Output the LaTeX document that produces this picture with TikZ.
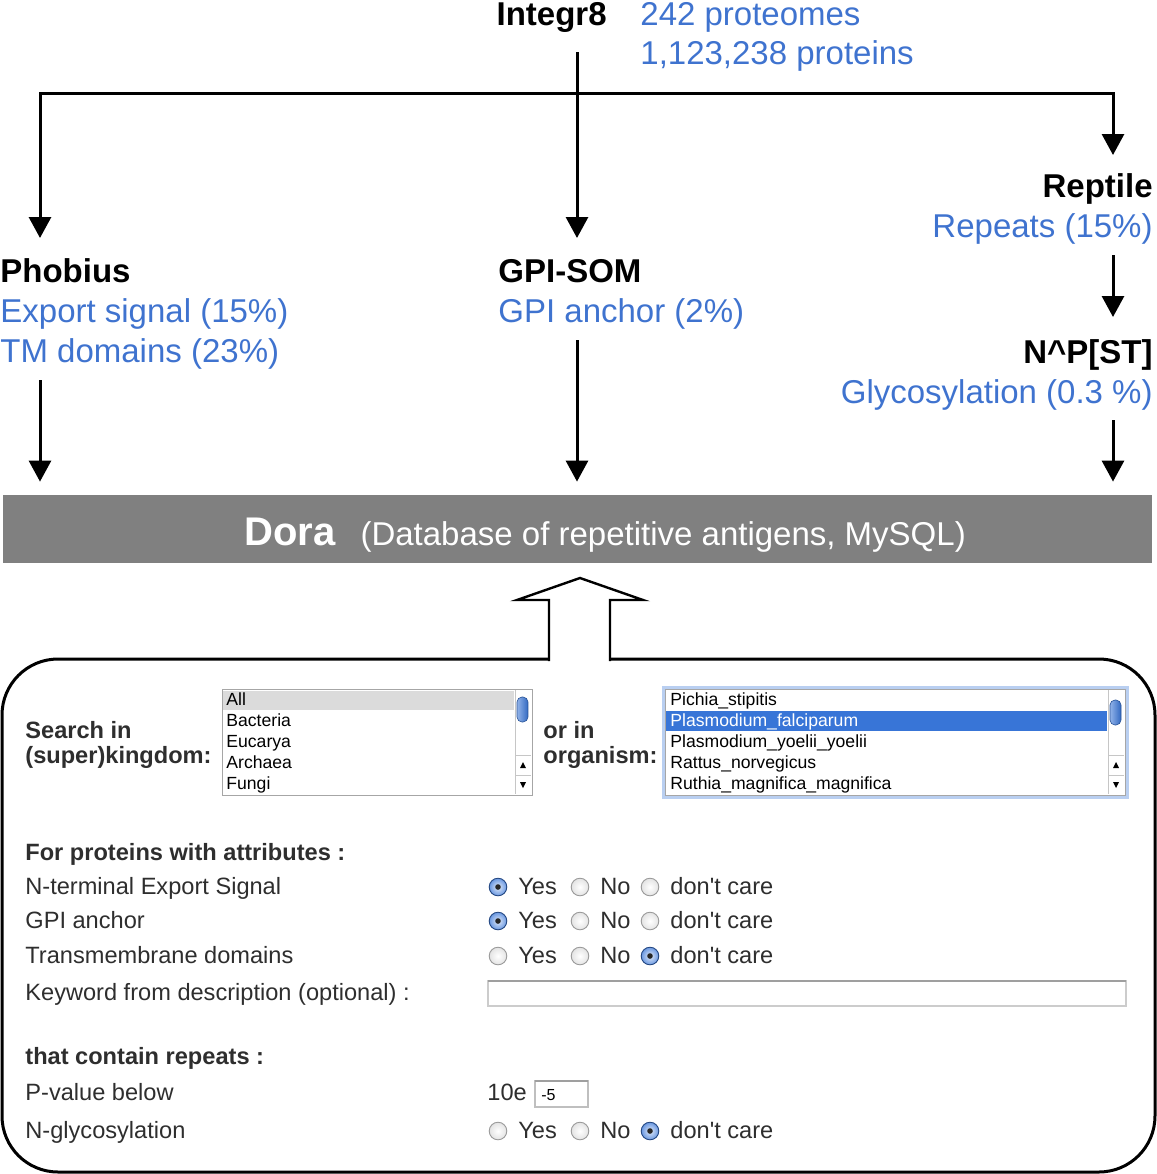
\documentclass[tikz,border=0pt]{standalone}
\usepackage{fontspec}
\setmainfont{Liberation Sans}
\usetikzlibrary{arrows.meta,positioning,shapes.geometric}
\definecolor{statblue}{HTML}{3F73CF}
\definecolor{formtext}{HTML}{2E2E2E}
\definecolor{selblue}{HTML}{3875D7}
\definecolor{barfill}{HTML}{808080}
\tikzset{%
   tool/.style={
      font=\fontsize{16.5}{19}\selectfont\bfseries,
      inner sep=0pt
   },
   stat/.style={
      font=\fontsize{16.5}{19}\selectfont,
      text=statblue,
      inner sep=0pt
   },
   flow/.style={
      line width=1.5pt,
      -{Triangle[length=10.5pt, width=11pt]}
   },
   dorabar/.style={
      fill=barfill,
      minimum width=574.5pt,
      minimum height=34pt,
      inner sep=0pt
   },
   panel/.style={
      line width=1.5pt,
      rounded corners=28pt
   },
   formtxt/.style={
      font=\fontsize{11.8}{14}\selectfont,
      text=formtext,
      inner sep=0pt,
      anchor=base west
   },
   formhead/.style={
      formtxt,
      font=\fontsize{11.8}{14}\selectfont\bfseries
   },
   item/.style={
      font=\fontsize{8.8}{10}\selectfont,
      inner sep=0pt,
      anchor=base west
   },
   listbox/.style={
      draw=gray!70,
      line width=0.5pt
   },
   radio/.style={
      circle,
      draw=gray!80,
      line width=0.45pt,
      minimum size=8.8pt,
      inner sep=0pt,
      inner color=white,
      outer color=gray!22
   },
   radioon/.style={
      circle,
      draw=selblue!60!black,
      line width=0.45pt,
      minimum size=8.8pt,
      inner sep=0pt,
      inner color=selblue!15,
      outer color=selblue!75,
      path picture={\fill[black!85] (path picture bounding box.center) circle (1.4pt);}
   },
}

\begin{document}
\begin{tikzpicture}[x=0.5pt, y=-0.5pt]
   \useasboundingbox (0,0) rectangle (1157,1174);

   % sources and tools
   \node[tool, anchor=base east] (integr8) at (607,25) {Integr8};
   \node[stat, anchor=base west] (proteomes) at (640,25) {242 proteomes};
   \node[stat, anchor=base west] (proteins) at (640,64) {1,123,238 proteins};

   \node[tool, anchor=base west] (phobius) at (0,282) {Phobius};
   \node[stat, anchor=base west] (export) at (0,322) {Export signal (15\%)};
   \node[stat, anchor=base west] (tm) at (0,362) {TM domains (23\%)};

   \node[tool, anchor=base west] (gpisom) at (498,282) {GPI-SOM};
   \node[stat, anchor=base west] (anchor) at (498,322) {GPI anchor (2\%)};

   \node[tool, anchor=base east] (reptile) at (1153,197) {Reptile};
   \node[stat, anchor=base east] (repeats) at (1153,237) {Repeats (15\%)};

   \node[tool, anchor=base east] (npst) at (1153,363) {N\textasciicircum P[ST]};
   \node[stat, anchor=base east] (glyco) at (1153,403) {Glycosylation (0.3 \%)};

   \node[dorabar] (dora) at (577.5,529) {};
   \node[anchor=base west, text=white, inner sep=0pt] (doratitle) at (244,545)
      {{\fontsize{20}{24}\selectfont\bfseries Dora}\hspace{12.5pt}{\fontsize{16.5}{19}\selectfont(Database of repetitive antigens, MySQL)}};

   % connectors
   \coordinate (src) at (577,52);
   \coordinate (hub) at (577,93);
   \coordinate (phobin) at (40,238);
   \coordinate (gpiin) at (577,238);
   \coordinate (reptin) at (1113,155);
   \coordinate (phobout) at (40,380);
   \coordinate (gpiout) at (577,340);
   \coordinate (reptout) at (1113,255);
   \coordinate (npstin) at (1113,317);
   \coordinate (npstout) at (1113,420);

   \draw[flow] (hub) -| (phobin);
   \draw[flow] (hub) -| (reptin);
   \draw[flow] (src) -- (gpiin);
   \draw[flow] (reptout) -- (npstin);
   \draw[flow, shorten >=6.5pt] (phobout) -- (phobout |- dora.north);
   \draw[flow, shorten >=6.5pt] (gpiout) -- (gpiout |- dora.north);
   \draw[flow, shorten >=6.5pt] (npstout) -- (npstout |- dora.north);

   % query form
   \draw[panel] (2,659) rectangle (1155,1172);
   \filldraw[fill=white, line width=1.2pt, line join=miter]
      (549,661) -- (549,600) -- (517,600) -- (580,578) -- (643,600) -- (610,600) -- (610,661);

   \node[formhead] (searchin) at (25,738) {Search in};
   \node[formhead] (kingdom) at (25,763) {(super)kingdom:};
   \node[formhead] (orin) at (543,738) {or in};
   \node[formhead] (organism) at (543,763) {organism:};

   % kingdom list
   \draw[listbox] (222,689) rectangle (532,795);
   \fill[gray!28] (223,691) rectangle (514,710);
   \node[item] (kall) at (226,705) {All};
   \node[item] (kbac) at (226,726) {Bacteria};
   \node[item] (keuc) at (226,747) {Eucarya};
   \node[item] (karc) at (226,768) {Archaea};
   \node[item] (kfun) at (226,789) {Fungi};
   \draw[gray!45, line width=0.4pt] (515,690) -- (515,794);
   \draw[gray!45, line width=0.4pt] (515,755) -- (531,755) (515,775) -- (531,775);
   \shade[rounded corners=2.5pt, left color=selblue!55, right color=selblue!90!black, draw=selblue!70!black, line width=0.3pt]
      (517,697) rectangle (528,722);
   \fill (520,768) -- (526,768) -- (523,762) -- cycle;
   \fill (520,782) -- (526,782) -- (523,788) -- cycle;

   % organism list
   \draw[selblue!35, line width=1.5pt] (663,687) rectangle (1127,797);
   \draw[listbox] (665,689) rectangle (1125,795);
   \fill[selblue] (666,711) rectangle (1107,731);
   \node[item] (opic) at (670,705) {Pichia\_stipitis};
   \node[item, text=white] (opfa) at (670,726) {Plasmodium\_falciparum};
   \node[item] (opyo) at (670,747) {Plasmodium\_yoelii\_yoelii};
   \node[item] (orat) at (670,768) {Rattus\_norvegicus};
   \node[item] (orut) at (670,789) {Ruthia\_magnifica\_magnifica};
   \draw[gray!45, line width=0.4pt] (1108,690) -- (1108,794);
   \draw[gray!45, line width=0.4pt] (1108,755) -- (1124,755) (1108,775) -- (1124,775);
   \shade[rounded corners=2.5pt, left color=selblue!55, right color=selblue!90!black, draw=selblue!70!black, line width=0.3pt]
      (1110,700) rectangle (1121,725);
   \fill (1113,768) -- (1119,768) -- (1116,762) -- cycle;
   \fill (1113,782) -- (1119,782) -- (1116,788) -- cycle;

   % attributes
   \node[formhead] (attrs) at (25,860) {For proteins with attributes :};
   \node[formtxt] (nterm) at (25,894) {N-terminal Export Signal};
   \node[formtxt] (gpi) at (25,928) {GPI anchor};
   \node[formtxt] (tmd) at (25,963) {Transmembrane domains};
   \node[formtxt] (keyword) at (25,1000) {Keyword from description (optional) :};

   \node[radioon] (ntyes) at (498,887) {};
   \node[formtxt] (ntyeslbl) at (518,894) {Yes};
   \node[radio] (ntno) at (580,887) {};
   \node[formtxt] (ntnolbl) at (600,894) {No};
   \node[radio] (ntdc) at (650,887) {};
   \node[formtxt] (ntdclbl) at (670,894) {don\textquotesingle t care};

   \node[radioon] (gpyes) at (498,921) {};
   \node[formtxt] (gpyeslbl) at (518,928) {Yes};
   \node[radio] (gpno) at (580,921) {};
   \node[formtxt] (gpnolbl) at (600,928) {No};
   \node[radio] (gpdc) at (650,921) {};
   \node[formtxt] (gpdclbl) at (670,928) {don\textquotesingle t care};

   \node[radio] (tmyes) at (498,956) {};
   \node[formtxt] (tmyeslbl) at (518,963) {Yes};
   \node[radio] (tmno) at (580,956) {};
   \node[formtxt] (tmnolbl) at (600,963) {No};
   \node[radioon] (tmdc) at (650,956) {};
   \node[formtxt] (tmdclbl) at (670,963) {don\textquotesingle t care};

   \draw[gray!40, line width=0.6pt] (488,981) rectangle (1126,1006);
   \draw[gray!75, line width=0.6pt] (488,981) -- (1126,981);

   % repeats
   \node[formhead] (reps) at (25,1064) {that contain repeats :};
   \node[formtxt] (pval) at (25,1100) {P-value below};
   \node[formtxt] (ngly) at (25,1138) {N-glycosylation};

   \node[formtxt] (tene) at (487,1100) {10e};
   \draw[gray!50, line width=0.6pt] (535,1081) rectangle (588,1107);
   \draw[gray!75, line width=0.6pt] (535,1081) -- (588,1081);
   \node[item, font=\fontsize{8}{9}\selectfont] (pexp) at (541,1100) {-5};

   \node[radio] (ngyes) at (498,1131) {};
   \node[formtxt] (ngyeslbl) at (518,1138) {Yes};
   \node[radio] (ngno) at (580,1131) {};
   \node[formtxt] (ngnolbl) at (600,1138) {No};
   \node[radioon] (ngdc) at (650,1131) {};
   \node[formtxt] (ngdclbl) at (670,1138) {don\textquotesingle t care};
\end{tikzpicture}
\end{document}
